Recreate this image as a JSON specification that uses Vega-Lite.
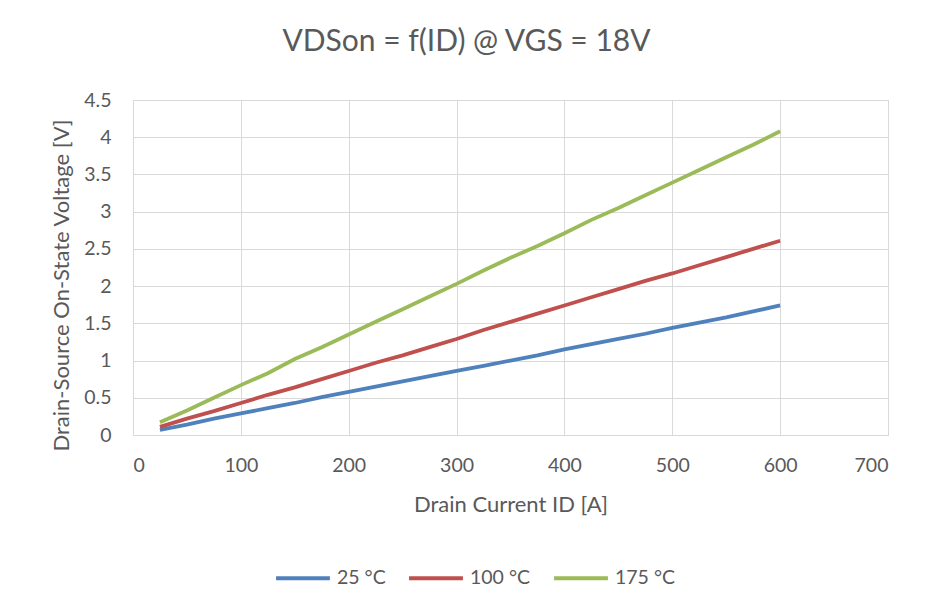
{
  "$schema": "https://vega.github.io/schema/vega-lite/v6.json",
  "autosize": {"type": "none"},
  "width": 755,
  "height": 335,
  "padding": {"left": 133, "top": 100, "right": 37, "bottom": 179},
  "background": "white",
  "title": {
    "text": "VDSon = f(ID) @ VGS = 18V",
    "font": "Lato",
    "fontSize": 30,
    "fontWeight": "normal",
    "color": "#595959",
    "anchor": "middle",
    "frame": "group",
    "dx": -44,
    "offset": 33
  },
  "config": {
    "view": {"stroke": "#d9d9d9", "strokeWidth": 1},
    "axis": {
      "labelFont": "Lato",
      "titleFont": "Lato",
      "labelColor": "#595959",
      "titleColor": "#595959",
      "labelFontSize": 19.5,
      "titleFontSize": 22,
      "titleFontWeight": "normal",
      "gridColor": "#d9d9d9",
      "gridWidth": 1,
      "domainColor": "#d9d9d9",
      "ticks": false
    }
  },
  "data": {
    "values": [
      {"I": 25, "V": 0.07, "T": "25 °C"}, {"I": 50, "V": 0.14, "T": "25 °C"}, {"I": 75, "V": 0.22, "T": "25 °C"}, {"I": 100, "V": 0.29, "T": "25 °C"},
      {"I": 125, "V": 0.36, "T": "25 °C"}, {"I": 150, "V": 0.43, "T": "25 °C"}, {"I": 175, "V": 0.51, "T": "25 °C"}, {"I": 200, "V": 0.58, "T": "25 °C"},
      {"I": 225, "V": 0.65, "T": "25 °C"}, {"I": 250, "V": 0.72, "T": "25 °C"}, {"I": 275, "V": 0.79, "T": "25 °C"}, {"I": 300, "V": 0.86, "T": "25 °C"},
      {"I": 325, "V": 0.93, "T": "25 °C"}, {"I": 350, "V": 1.0, "T": "25 °C"}, {"I": 375, "V": 1.07, "T": "25 °C"}, {"I": 400, "V": 1.15, "T": "25 °C"},
      {"I": 425, "V": 1.22, "T": "25 °C"}, {"I": 450, "V": 1.29, "T": "25 °C"}, {"I": 475, "V": 1.36, "T": "25 °C"}, {"I": 500, "V": 1.44, "T": "25 °C"},
      {"I": 525, "V": 1.51, "T": "25 °C"}, {"I": 550, "V": 1.58, "T": "25 °C"}, {"I": 575, "V": 1.66, "T": "25 °C"}, {"I": 600, "V": 1.74, "T": "25 °C"},
      {"I": 25, "V": 0.11, "T": "100 °C"}, {"I": 50, "V": 0.22, "T": "100 °C"}, {"I": 75, "V": 0.32, "T": "100 °C"}, {"I": 100, "V": 0.43, "T": "100 °C"},
      {"I": 125, "V": 0.54, "T": "100 °C"}, {"I": 150, "V": 0.64, "T": "100 °C"}, {"I": 175, "V": 0.75, "T": "100 °C"}, {"I": 200, "V": 0.86, "T": "100 °C"},
      {"I": 225, "V": 0.97, "T": "100 °C"}, {"I": 250, "V": 1.07, "T": "100 °C"}, {"I": 275, "V": 1.18, "T": "100 °C"}, {"I": 300, "V": 1.29, "T": "100 °C"},
      {"I": 325, "V": 1.41, "T": "100 °C"}, {"I": 350, "V": 1.52, "T": "100 °C"}, {"I": 375, "V": 1.63, "T": "100 °C"}, {"I": 400, "V": 1.74, "T": "100 °C"},
      {"I": 425, "V": 1.85, "T": "100 °C"}, {"I": 450, "V": 1.96, "T": "100 °C"}, {"I": 475, "V": 2.07, "T": "100 °C"}, {"I": 500, "V": 2.17, "T": "100 °C"},
      {"I": 525, "V": 2.28, "T": "100 °C"}, {"I": 550, "V": 2.39, "T": "100 °C"}, {"I": 575, "V": 2.5, "T": "100 °C"}, {"I": 600, "V": 2.61, "T": "100 °C"},
      {"I": 25, "V": 0.17, "T": "175 °C"}, {"I": 50, "V": 0.33, "T": "175 °C"}, {"I": 75, "V": 0.5, "T": "175 °C"}, {"I": 100, "V": 0.67, "T": "175 °C"},
      {"I": 125, "V": 0.83, "T": "175 °C"}, {"I": 150, "V": 1.02, "T": "175 °C"}, {"I": 175, "V": 1.18, "T": "175 °C"}, {"I": 200, "V": 1.35, "T": "175 °C"},
      {"I": 225, "V": 1.52, "T": "175 °C"}, {"I": 250, "V": 1.69, "T": "175 °C"}, {"I": 275, "V": 1.86, "T": "175 °C"}, {"I": 300, "V": 2.03, "T": "175 °C"},
      {"I": 325, "V": 2.21, "T": "175 °C"}, {"I": 350, "V": 2.38, "T": "175 °C"}, {"I": 375, "V": 2.54, "T": "175 °C"}, {"I": 400, "V": 2.71, "T": "175 °C"},
      {"I": 425, "V": 2.89, "T": "175 °C"}, {"I": 450, "V": 3.05, "T": "175 °C"}, {"I": 475, "V": 3.22, "T": "175 °C"}, {"I": 500, "V": 3.39, "T": "175 °C"},
      {"I": 525, "V": 3.56, "T": "175 °C"}, {"I": 550, "V": 3.73, "T": "175 °C"}, {"I": 575, "V": 3.9, "T": "175 °C"}, {"I": 600, "V": 4.08, "T": "175 °C"}
    ]
  },
  "mark": {"type": "line", "strokeWidth": 3.8, "strokeCap": "butt"},
  "encoding": {
    "x": {
      "field": "I", "type": "quantitative",
      "scale": {"domain": [0, 700], "nice": false},
      "axis": {"values": [0, 100, 200, 300, 400, 500, 600, 700], "title": "Drain Current ID [A]", "labelPadding": 21, "titlePadding": 20, "grid": true}
    },
    "y": {
      "field": "V", "type": "quantitative",
      "scale": {"domain": [0, 4.5], "nice": false},
      "axis": {"values": [0, 0.5, 1, 1.5, 2, 2.5, 3, 3.5, 4, 4.5], "format": "~g", "title": "Drain-Source On-State Voltage [V]", "labelPadding": 22, "titlePadding": 10, "titleY": 185, "domain": false}
    },
    "color": {
      "field": "T", "type": "nominal",
      "sort": ["25 °C", "100 °C", "175 °C"],
      "scale": {"domain": ["25 °C", "100 °C", "175 °C"], "range": ["#4F81BD", "#C0504D", "#9BBB59"]},
      "legend": {
        "orient": "none", "legendX": 141, "legendY": 449, "direction": "horizontal",
        "title": null, "symbolType": "stroke", "symbolSize": 2900, "symbolStrokeWidth": 4,
        "labelFont": "Lato", "labelFontSize": 19.5, "labelColor": "#595959", "columnPadding": 15, "labelOffset": 5
      }
    },
    "order": {"field": "I", "type": "quantitative"}
  }
}
